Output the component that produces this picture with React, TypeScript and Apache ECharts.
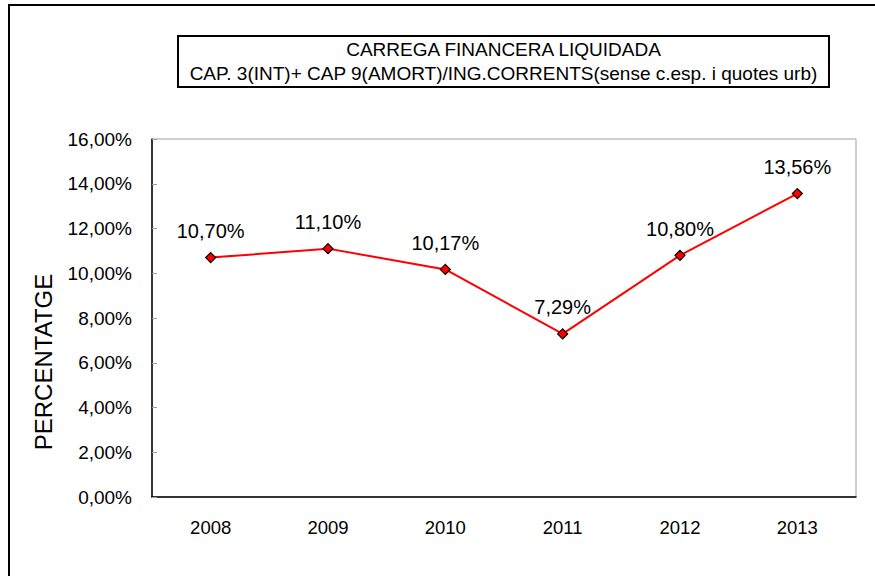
import React, { useEffect, useRef } from "react";
import * as echarts from "echarts";

const categories = ["2008", "2009", "2010", "2011", "2012", "2013"];
const values = [10.7, 11.1, 10.17, 7.29, 10.8, 13.56];
const titleLines = [
  "CARREGA FINANCERA LIQUIDADA",
  "CAP. 3(INT)+ CAP 9(AMORT)/ING.CORRENTS(sense c.esp. i quotes urb)",
];
const yAxisName = "PERCENTATGE";

const fmt = (v: number) => v.toFixed(2).replace(".", ",") + "%";

export default function App() {
  const ref = useRef<HTMLDivElement>(null);
  useEffect(() => {
    if (!ref.current) return;
    const chart = echarts.init(ref.current, null, { renderer: "svg" });
    const font = "'Liberation Sans', Arial, sans-serif";
    chart.setOption({
      animation: false,
      backgroundColor: "#ffffff",
      textStyle: { fontFamily: font },
      grid: {
        left: 152,
        top: 139,
        right: 19,
        bottom: 79,
        show: true,
        borderColor: "#a0a0a0",
        borderWidth: 1,
      },
      xAxis: {
        type: "category",
        data: categories,
        boundaryGap: true,
        axisLine: { lineStyle: { color: "#000", width: 1.5 } },
        axisTick: { inside: true, length: 5, lineStyle: { color: "#a0a0a0" } },
        axisLabel: { color: "#000", fontSize: 18.5, margin: 21, fontFamily: font },
      },
      yAxis: {
        type: "value",
        min: 0,
        max: 16,
        interval: 2,
        axisLine: { show: true, lineStyle: { color: "#000", width: 1.5 } },
        axisTick: { show: true, inside: true, length: 5, lineStyle: { color: "#a0a0a0" } },
        splitLine: { show: false },
        axisLabel: {
          color: "#000",
          fontSize: 19,
          margin: 20,
          fontFamily: font,
          formatter: (v: number) => fmt(v),
        },
      },
      series: [
        {
          type: "line",
          data: values,
          symbol: "diamond",
          symbolSize: 10,
          lineStyle: { color: "#ff0000", width: 2 },
          itemStyle: { color: "#ff0000", borderColor: "#000", borderWidth: 1.2 },
          label: {
            show: true,
            position: "top",
            distance: 11,
            color: "#000",
            fontSize: 20,
            fontFamily: font,
            formatter: (p: any) => fmt(p.value),
          },
        },
      ],
      graphic: [
        {
          type: "polyline",
          shape: { points: [[9, 580], [9, 5], [880, 5]] },
          style: { stroke: "#000", lineWidth: 2, fill: "none" },
          silent: true,
        },
        {
          type: "rect",
          shape: { x: 178, y: 36, width: 651, height: 51 },
          style: { stroke: "#000", lineWidth: 2, fill: "#fff" },
          silent: true,
        },
        {
          type: "text",
          x: 503.5,
          y: 49,
          style: {
            text: titleLines[0],
            fontSize: 19,
            fontFamily: font,
            fill: "#000",
            align: "center",
            verticalAlign: "middle",
          },
        },
        {
          type: "text",
          x: 503.5,
          y: 73,
          style: {
            text: titleLines[1],
            fontSize: 19,
            fontFamily: font,
            fill: "#000",
            align: "center",
            verticalAlign: "middle",
          },
        },
        {
          type: "text",
          x: 43,
          y: 362,
          rotation: Math.PI / 2,
          style: {
            text: yAxisName,
            fontSize: 24,
            fontFamily: font,
            fill: "#000",
            align: "center",
            verticalAlign: "middle",
          },
        },
      ],
    });
    return () => chart.dispose();
  }, []);
  return (
    <div
      ref={ref}
      style={{ position: "absolute", left: 0, top: 0, width: 875, height: 576 }}
    />
  );
}
